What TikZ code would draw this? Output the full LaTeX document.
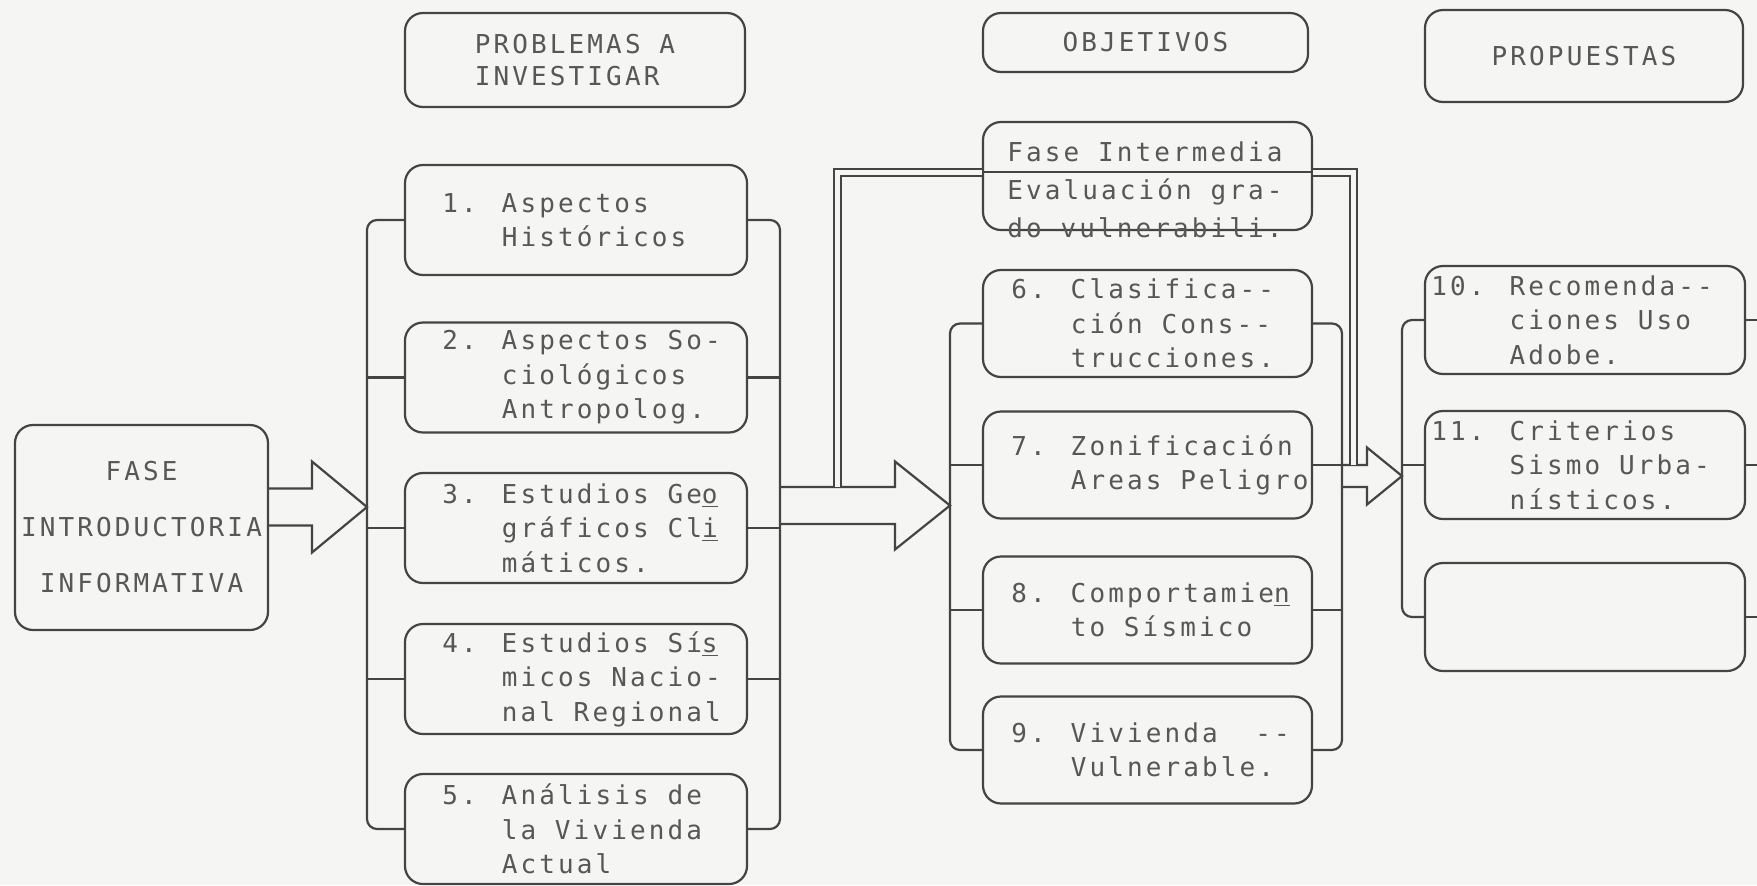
\documentclass[tikz,border=0pt]{standalone}
\usepackage{fontspec}
\newfontfamily\maquina{DejaVu Sans Mono}[LetterSpace=12]
\usetikzlibrary{positioning,calc}
\definecolor{papel}{RGB}{245,245,243}
\definecolor{tinta}{RGB}{68,68,68}
\tikzstyle{linea}=[draw=tinta,line width=1.1pt]
\tikzstyle{doble}=[draw=tinta,line width=1pt,double=papel,double distance=2.5pt]
\tikzstyle{caja}=[draw=tinta,line width=1.1pt,rounded corners=9pt,inner sep=0pt]
\tikzstyle{texto}=[inner sep=0pt,align=left,text=tinta!90,font=\maquina\fontsize{13}{17.25}\selectfont]
\tikzstyle{izq}=[caja,minimum width=171pt,minimum height=55pt]
\tikzstyle{centro}=[caja,minimum width=164.5pt,minimum height=53.5pt]
\tikzstyle{der}=[caja,minimum width=160pt,minimum height=54pt]
% flecha gruesa: inicio, punta, medio ancho cuerpo, medio ancho cabeza, largo cabeza
\newcommand{\flechagorda}[5]{%
  \draw[linea] let \p1=(#1), \p2=(#2) in
    (\x1,\y1+#3) -- (\x2-#5,\y1+#3) -- (\x2-#5,\y1+#4) -- (\x2,\y1)
    -- (\x2-#5,\y1-#4) -- (\x2-#5,\y1-#3) -- (\x1,\y1-#3);}

\begin{document}
\begin{tikzpicture}[x=0.5pt,y=-0.5pt]
\useasboundingbox[fill=papel] (0,0) rectangle (1757,885);

% encabezados
\node [caja,texto,minimum width=170pt,minimum height=47pt,
  font=\maquina\fontsize{13}{16}\selectfont] (hp) at (575,60) {PROBLEMAS A\\INVESTIGAR};
\node [caja,texto,minimum width=162.5pt,minimum height=29.5pt] (ho) at (1145.5,42.5) {OBJETIVOS};
\node [caja,texto,minimum width=159pt,minimum height=46pt] (hr) at (1584,56) {PROPUESTAS};

% fase introductoria
\node [caja,texto,align=center,minimum width=126.5pt,minimum height=102.5pt,
  font=\maquina\fontsize{13}{28}\selectfont] (fase) at (141.5,527.5)
  {FASE\\INTRODUCTORIA\\INFORMATIVA};

% problemas a investigar
\foreach \n/\y in {1/220,2/377.5,3/528,4/679,5/829}
  \node [izq] (p\n) at (576,\y) {};
\node [texto,right=19pt of p1.west] (tp1) {1. Aspectos\\\phantom{1. }Históricos};
\node [texto,right=19pt of p2.west] (tp2) {2. Aspectos So-\\\phantom{2. }ciológicos\\\phantom{2. }Antropolog.};
\node [texto,right=19pt of p3.west] (tp3) {3. Estudios Ge\underline{o}\\\phantom{3. }gráficos Cl\underline{i}\\\phantom{3. }máticos.};
\node [texto,right=19pt of p4.west] (tp4) {4. Estudios Sí\underline{s}\\\phantom{4. }micos Nacio-\\\phantom{4. }nal Regional};
\node [texto,right=19pt of p5.west] (tp5) {5. Análisis de\\\phantom{5. }la Vivienda\\\phantom{5. }Actual};

% objetivos
\node [centro,minimum height=54pt] (fi) at (1147.5,176) {};
\node [texto,right=12.5pt of fi.west,yshift=-7pt,
  font=\maquina\fontsize{13}{19}\selectfont] (tfi) {Fase Intermedia\\Evaluación gra-\\do vulnerabili.};
\foreach \n/\y in {6/323.5,7/465,8/610,9/750}
  \node [centro] (o\n) at (1147.5,\y) {};
\node [texto,right=14.5pt of o6.west] (to6) {6. Clasifica-{}-\\\phantom{6. }ción Cons-{}-\\\phantom{6. }trucciones.};
\node [texto,right=14.5pt of o7.west] (to7) {7. Zonificación\\\phantom{7. }Areas Peligro};
\node [texto,right=14.5pt of o8.west] (to8) {8. Comportamie\underline{n}\\\phantom{8. }to Sísmico};
\node [texto,right=14.5pt of o9.west] (to9) {9. Vivienda\phantom{ }\phantom{ }-{}-\\\phantom{9. }Vulnerable.};

% propuestas
\foreach \n/\y in {10/320,11/465,12/617}
  \node [der] (r\n) at (1585,\y) {};
\node [texto,right=3.5pt of r10.west] (tr10) {10. Recomenda-{}-\\\phantom{10. }ciones Uso\\\phantom{10. }Adobe.};
\node [texto,right=3.5pt of r11.west] (tr11) {11. Criterios\\\phantom{11. }Sismo Urba-\\\phantom{11. }nísticos.};

% barras verticales
\coordinate (bA) at (367,0);
\coordinate (bB) at (780,0);
\coordinate (bC) at (950,0);
\coordinate (bD) at (1342,0);
\coordinate (bE) at (1402,0);
\coordinate (bF) at (1760,0);

\draw[linea,rounded corners=5pt] (p1.west) -| (bA |- p5.west) -- (p5.west);
\draw[linea,rounded corners=5pt] (p1.east) -| (bB |- p5.east) -- (p5.east);
\foreach \n in {2,3,4} {
  \draw[linea] (p\n.west) -- (bA |- p\n.west);
  \draw[linea] (p\n.east) -- (bB |- p\n.east);
}
\draw[linea,rounded corners=5pt] (o6.west) -| (bC |- o9.west) -- (o9.west);
\draw[linea,rounded corners=5pt] (o6.east) -| (bD |- o9.east) -- (o9.east);
\foreach \n in {7,8} {
  \draw[linea] (o\n.west) -- (bC |- o\n.west);
  \draw[linea] (o\n.east) -- (bD |- o\n.east);
}
\draw[linea,rounded corners=5pt] (r10.west) -| (bE |- r12.west) -- (r12.west);
\draw[linea] (r11.west) -- (bE |- r11.west);
\foreach \n in {10,11,12}
  \draw[linea] (r\n.east) -- (bF |- r\n.east);

% flechas gruesas
\coordinate (f1) at (fase.east |- 0,507);
\coordinate (f2) at (bB |- 0,505.5);
\coordinate (f3) at ($(bD |- o7.east)+(0,11)$);
\flechagorda{f1}{bA |- f1}{9.25pt}{22.75pt}{27.5pt}
\flechagorda{f2}{bC |- f2}{9.25pt}{22pt}{27.5pt}
\flechagorda{f3}{bE |- f3}{5.5pt}{14.25pt}{17.5pt}

% retorno doble por la fase intermedia
\coordinate (d0) at ($(f2)+(57,-18.5)$);
\coordinate (d1) at ($(f3)+(11,-11)$);
\coordinate (dv) at (0,172);
\draw[doble] (d0) |- (fi.west |- dv);
\draw[linea] (fi.west |- dv) -- (fi.east |- dv);
\draw[doble] (fi.east |- dv) -| (d1);
\end{tikzpicture}
\end{document}
